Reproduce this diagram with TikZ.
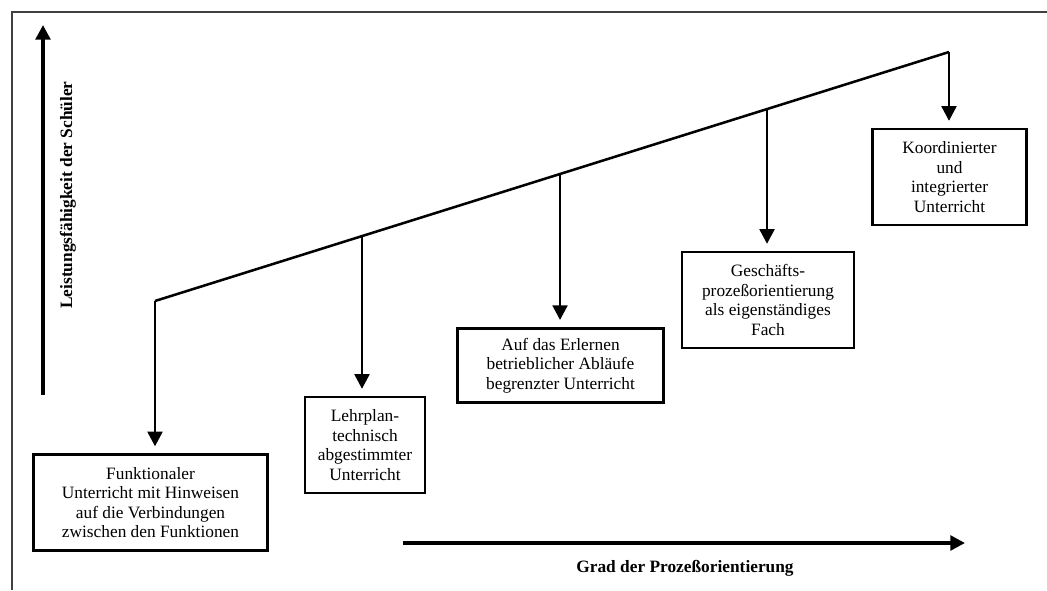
\documentclass[tikz,border=0pt]{standalone}
\usepackage{fontspec}
\setmainfont{Liberation Serif}
\usetikzlibrary{arrows.meta,calc,positioning}
\tikzset{>={Triangle[length=11pt,width=11pt]},
  every node/.style={font=\fontsize{13}{14.6}\selectfont},
  rahmen/.style={draw=black!75,line width=1.5pt},
  achse/.style={->,line width=2.6pt},
  stufenlinie/.style={line width=1.9pt,line join=miter},
  pfeil/.style={->,line width=2.2pt,shorten >=5pt},
  stufe/.style={draw,line width=2.2pt,align=center,inner sep=2pt},
  achsentext/.style={font=\fontsize{13}{15}\selectfont\bfseries}}
\begin{document}
\begin{tikzpicture}[x=0.75pt,y=-0.75pt]
\useasboundingbox(0,0)rectangle(1047,590);
\draw[rahmen](12,590)--(12,12)--(1047,12);
% Achsen
\draw[achse](43,395)--(43,25);
\node[achsentext,rotate=90](ylab)at(68,195){Leistungsfähigkeit der Schüler};
\draw[achse](403,543)--(965,543);
\node[achsentext](xlab)at(685,568){Grad der Prozeßorientierung};
% Stufenlinie
\coordinate(k1)at(155,301);
\coordinate(k5)at(949,52);
\coordinate(k2)at($(k1)!0.2607!(k5)$);
\coordinate(k3)at($(k1)!0.5101!(k5)$);
\coordinate(k4)at($(k1)!0.7708!(k5)$);
\draw[stufenlinie](k1)--(k5);
% Stufen
\node[stufe,minimum width=176pt,minimum height=72pt](b1)at(150.5,502.5){Funktionaler\\Unterricht mit Hinweisen\\auf die Verbindungen\\zwischen den Funktionen};
\node[stufe,minimum width=90pt,minimum height=72pt](b2)at(365,445){Lehrplan-\\technisch\\abgestimmter\\Unterricht};
\node[stufe,minimum width=154pt,minimum height=56pt](b3)at(560.5,365.5){Auf das Erlernen\\betrieblicher Abläufe\\begrenzter Unterricht};
\node[stufe,minimum width=129pt,minimum height=72pt](b4)at(768,300){Geschäfts-\\prozeßorientierung\\als eigenständiges\\Fach};
\node[stufe,minimum width=116pt,minimum height=72pt](b5)at(949.5,177){Koordinierter\\und\\integrierter\\Unterricht};
\foreach \i in {1,...,5}
  \draw[pfeil](k\i)--(k\i|-b\i.north);
\end{tikzpicture}
\end{document}
